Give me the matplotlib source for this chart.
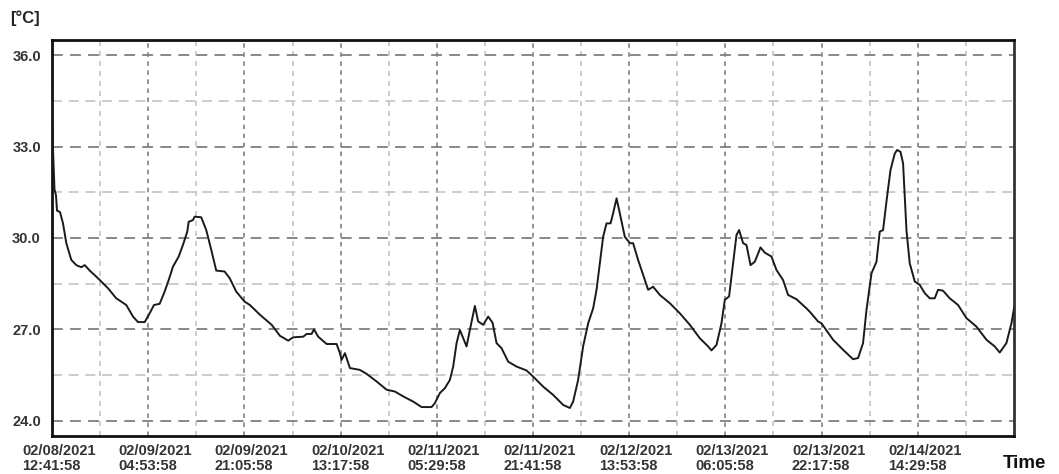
import matplotlib
matplotlib.use("Agg")
import matplotlib.pyplot as plt
from matplotlib.transforms import ScaledTranslation

# temperatuur (tunnid algusest 02/08/2021 12:41:58)
hours = [0.0, 0.17, 0.42, 0.67, 0.84, 1.35, 1.85, 2.41, 3.25, 4.09, 4.93, 5.51, 6.35,
         7.74, 9.43, 10.82, 12.51, 13.64, 14.48, 15.61, 16.45, 17.17, 18.13, 18.97,
         19.65, 20.37, 21.33, 22.05, 22.78, 23.01, 23.74, 24.02, 25.13, 25.98, 26.82,
         27.66, 29.07, 29.92, 31.03, 32.44, 33.33, 35.02, 36.99, 38.38, 39.78, 40.62,
         42.31, 42.88, 43.72, 44.11, 44.83, 46.25, 47.93, 48.48, 48.77, 49.33, 50.17,
         51.85, 52.98, 54.66, 56.35, 57.74, 59.14, 60.82, 62.24, 63.92, 64.48, 65.32,
         66.16, 67.00, 67.56, 68.13, 68.69, 69.24, 69.81, 70.37, 71.21, 71.77, 72.61,
         73.45, 74.19, 74.86, 75.71, 76.82, 78.23, 79.92, 81.03, 82.71, 84.39, 86.08,
         87.21, 87.76, 88.60, 89.44, 90.29, 91.13, 91.70, 92.26, 92.81, 93.38, 94.06,
         94.49, 95.07, 95.62, 96.46, 97.31, 97.86, 98.70, 99.55, 100.39, 101.23,
         102.36, 104.04, 105.72, 107.41, 109.09, 110.49, 111.06, 111.90, 112.74,
         113.30, 114.02, 114.70, 115.27, 115.71, 116.38, 116.95, 117.63, 118.35,
         119.31, 120.03, 121.16, 122.00, 123.11, 123.96, 125.37, 127.05, 127.61,
         129.00, 129.58, 131.53, 133.22, 134.90, 135.74, 136.58, 137.16, 138.00,
         138.84, 139.39, 139.95, 140.62, 141.20, 141.92, 142.31, 142.88, 143.32,
         143.89, 144.44, 145.29, 146.13, 146.97, 147.81, 148.65, 149.21, 150.05,
         151.18, 152.58, 153.99, 155.68, 157.36, 158.75, 159.60, 160.72, 161.57, 162.0]
temps = [34.75, 32.9, 31.6, 31.4, 30.9, 30.85, 30.48, 29.83, 29.28, 29.11, 29.04, 29.11,
         28.93, 28.68, 28.35, 28.02, 27.80, 27.42, 27.24, 27.24, 27.53, 27.80, 27.84,
         28.24, 28.62, 29.06, 29.39, 29.77, 30.21, 30.53, 30.59, 30.70, 30.68, 30.26,
         29.61, 28.93, 28.90, 28.68, 28.24, 27.91, 27.80, 27.48, 27.15, 26.79, 26.63,
         26.74, 26.76, 26.85, 26.85, 27.00, 26.76, 26.52, 26.52, 26.22, 26.00, 26.22,
         25.73, 25.67, 25.54, 25.29, 25.02, 24.96, 24.80, 24.63, 24.45, 24.45, 24.58,
         24.91, 25.07, 25.34, 25.78, 26.55, 26.98, 26.71, 26.44, 26.98, 27.77, 27.26,
         27.15, 27.42, 27.22, 26.55, 26.38, 25.94, 25.78, 25.65, 25.45, 25.12, 24.85,
         24.52, 24.42, 24.63, 25.34, 26.44, 27.20, 27.69, 28.30, 29.17, 30.04, 30.48,
         30.48, 30.81, 31.30, 30.81, 30.04, 29.83, 29.83, 29.28, 28.79, 28.30, 28.40,
         28.13, 27.86, 27.53, 27.15, 26.71, 26.44, 26.31, 26.49, 27.20, 27.97, 28.08,
         29.17, 30.10, 30.26, 29.83, 29.77, 29.11, 29.22, 29.69, 29.52, 29.39, 28.95,
         28.62, 28.13, 27.99, 27.69, 27.58, 27.26, 27.20, 26.66, 26.33, 26.02, 26.06,
         26.55, 27.64, 28.84, 29.22, 30.21, 30.26, 31.35, 32.23, 32.77, 32.89, 32.83,
         32.45, 30.26, 29.17, 28.57, 28.46, 28.19, 28.02, 28.02, 28.30, 28.27, 28.02,
         27.80, 27.37, 27.09, 26.66, 26.44, 26.24, 26.55, 27.20, 27.69]

aja_sildid = ["02/08/2021\n12:41:58", "02/09/2021\n04:53:58", "02/09/2021\n21:05:58",
              "02/10/2021\n13:17:58", "02/11/2021\n05:29:58", "02/11/2021\n21:41:58",
              "02/12/2021\n13:53:58", "02/13/2021\n06:05:58", "02/13/2021\n22:17:58",
              "02/14/2021\n14:29:58"]
samm = 16.2  # tundi siltide vahel
y_sildid = [24.0, 27.0, 30.0, 33.0, 36.0]

plt.rcParams['font.family'] = ['Liberation Sans', 'DejaVu Sans']

fig = plt.figure(figsize=(10.59, 4.74), dpi=100)
ax = fig.add_axes([52 / 1059, 38 / 474, 962 / 1059, 396 / 474])

ax.plot(hours, temps, color="#1a1a1a", linewidth=1.4, zorder=3)

ax.set_xlim(0, 10 * samm)
ax.set_ylim(23.5, 36.5)

x_major = [i * samm for i in range(len(aja_sildid))]
x_minor = [i * samm + samm / 2 for i in range(len(aja_sildid))]
ax.set_xticks(x_major)
ax.set_xticklabels(aja_sildid)
ax.set_xticks(x_minor, minor=True)
ax.set_yticks(y_sildid)
ax.set_yticklabels([f"{v:.1f}" for v in y_sildid])
ax.set_yticks([v + 1.5 for v in y_sildid[:-1]], minor=True)

ax.tick_params(which="both", length=0)
ax.tick_params(axis="x", pad=6, labelsize=10.5, labelcolor="#333333")
ax.tick_params(axis="y", pad=8, labelsize=10.5, labelcolor="#333333")
for lab in ax.get_xticklabels() + ax.get_yticklabels():
    lab.set_fontweight("bold")
for lab in ax.get_xticklabels():
    lab.set_horizontalalignment("center")
    lab.set_multialignment("left")
    lab.set_linespacing(1.05)
    lab.set_transform(lab.get_transform() + ScaledTranslation(0.07, 0, fig.dpi_scale_trans))

# ruudustik
ax.yaxis.grid(True, which="major", color="#7f7f7f", linestyle=(0, (6, 4)), linewidth=1.3)
ax.yaxis.grid(True, which="minor", color="#c4c4c4", linestyle=(0, (6, 4)), linewidth=1.2)
ax.xaxis.grid(True, which="major", color="#8a8a8a", linestyle=(0, (2.5, 2.5)), linewidth=1.3)
ax.xaxis.grid(True, which="minor", color="#c4c4c4", linestyle=(0, (3, 3)), linewidth=1.2)
ax.set_axisbelow(True)

for s in ["left", "bottom", "top"]:
    ax.spines[s].set_linewidth(2)
    ax.spines[s].set_color("#111111")
ax.spines["right"].set_linewidth(2)
ax.spines["right"].set_color("#333333")

fig.text(10 / 1059, 1 - 18 / 474, "[°C]", fontsize=12, fontweight="bold",
         color="#222222", va="center", ha="left")
fig.text(1046 / 1059, 1 - 463 / 474, "Time", fontsize=13.5, fontweight="bold",
         color="#111111", va="center", ha="right")

plt.savefig("out.png", dpi=100)
